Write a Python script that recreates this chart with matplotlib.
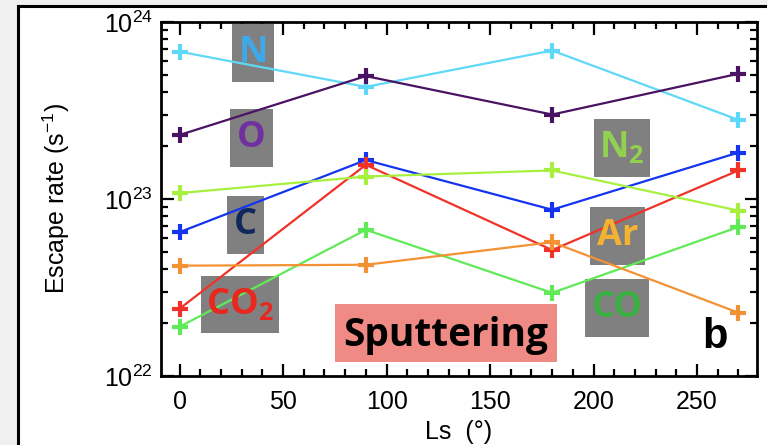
import matplotlib
matplotlib.use("Agg")
import matplotlib.pyplot as plt
import matplotlib.patches as mpatches
from matplotlib.ticker import MultipleLocator, LogLocator

plt.rcParams['font.family'] = ['Liberation Sans', 'DejaVu Sans']
plt.rcParams['mathtext.fontset'] = 'custom'
plt.rcParams['mathtext.bf'] = 'Open Sans:bold'
plt.rcParams['mathtext.rm'] = 'Liberation Sans'

# solar longitude of the four runs
ls = [0, 90, 180, 270]

# sputtering escape rates (s^-1)
esc_N = [6.8e23, 4.3e23, 6.9e23, 2.8e23]
esc_O = [2.3e23, 4.95e23, 3.0e23, 5.1e23]
esc_C = [6.5e22, 1.66e23, 8.7e22, 1.83e23]
esc_CO2 = [2.4e22, 1.56e23, 5.15e22, 1.45e23]
esc_N2 = [1.08e23, 1.34e23, 1.45e23, 8.6e22]
esc_CO = [1.9e22, 6.7e22, 2.95e22, 6.95e22]
esc_Ar = [4.2e22, 4.25e22, 5.7e22, 2.28e22]

species = ['N', 'O', 'C', 'CO2', 'N2', 'CO', 'Ar']
rates = [esc_N, esc_O, esc_C, esc_CO2, esc_N2, esc_CO, esc_Ar]
line_colors = ['#60d8f8', '#4a1262', '#1434f0', '#f03228', '#a8f040', '#60ea58', '#f39234']

fig = plt.figure(figsize=(7.67, 4.45), dpi=100)
fig.patch.set_facecolor('#f0f0f0')

# white panel with black frame, behind everything
panel = mpatches.Rectangle((18 / 767, -0.05), 1.2, 1 - 6 / 445 + 0.05,
                           transform=fig.transFigure, facecolor='white',
                           edgecolor='black', linewidth=2.2, zorder=-10)
fig.patches.append(panel)

ax = fig.add_axes([161 / 767, 1 - 376 / 445, 596 / 767, 354 / 445])
ax.set_facecolor('none')

for sp, r, c in zip(species, rates, line_colors):
    ax.plot(ls, r, color=c, lw=1.6, marker='+', ms=12, mew=3, zorder=3)

ax.set_yscale('log')
ax.set_ylim(1e22, 1e24)
ax.set_xlim(-9, 279)
ax.xaxis.set_major_locator(MultipleLocator(50))
ax.xaxis.set_minor_locator(MultipleLocator(10))
ax.yaxis.set_major_locator(LogLocator(base=10))
ax.yaxis.set_minor_locator(LogLocator(base=10, subs=range(2, 10)))

ax.tick_params(which='both', direction='in', top=True, right=True, width=1.6,
               labelsize=18)
ax.tick_params(which='major', length=9)
ax.tick_params(which='minor', length=5)
ax.tick_params(axis='x', pad=10)
ax.tick_params(axis='y', pad=6)
for s in ax.spines.values():
    s.set_linewidth(2)

ax.set_ylabel('Escape rate (s$^{-1}$)', fontsize=18)
ax.yaxis.set_label_coords(-0.149, 0.5)
ax.set_xlabel('Ls  (°)', fontsize=18)
ax.xaxis.set_label_coords(0.5, -0.124)

# species tags: (x0, x1, y0, y1) in axes fraction, text, colour
tags = [
    ((0.119, 0.190, 0.831, 0.994), 'N', '#3ea9e8'),
    ((0.116, 0.188, 0.590, 0.754), 'O', '#7030a0'),
    ((0.111, 0.173, 0.345, 0.508), 'C', '#10285c'),
    ((0.067, 0.198, 0.121, 0.282), r'$\mathbf{CO_2}$', '#e8281e'),
    ((0.7265, 0.820, 0.562, 0.726), r'$\mathbf{N_2}$', '#92d050'),
    ((0.720, 0.812, 0.3136, 0.477), 'Ar', '#f4b232'),
    ((0.711, 0.819, 0.110, 0.274), 'CO', '#3cb044'),
]
for (x0, x1, y0, y1), txt, c in tags:
    ax.add_patch(mpatches.Rectangle((x0, y0), x1 - x0, y1 - y0,
                                    transform=ax.transAxes, facecolor='#808080',
                                    edgecolor='none', zorder=2))
    ax.text((x0 + x1) / 2, (y0 + y1) / 2, txt, transform=ax.transAxes,
            ha='center', va='center', color=c, fontsize=26,
            family='Open Sans', weight='bold', zorder=4)

ax.add_patch(mpatches.Rectangle((0.292, 0.0395), 0.372, 0.1635,
                                transform=ax.transAxes, facecolor='#f08a84',
                                edgecolor='none', zorder=2))
ax.text(0.478, 0.115, 'Sputtering', transform=ax.transAxes, ha='center',
        va='center', fontsize=28, family='Open Sans', weight='bold',
        color='black', zorder=4)
ax.text(0.93, 0.11, 'b', transform=ax.transAxes, ha='center', va='center',
        fontsize=30, family='Liberation Sans', weight='bold', color='black',
        zorder=4)

fig.savefig('out.png', dpi=100, facecolor=fig.get_facecolor())
